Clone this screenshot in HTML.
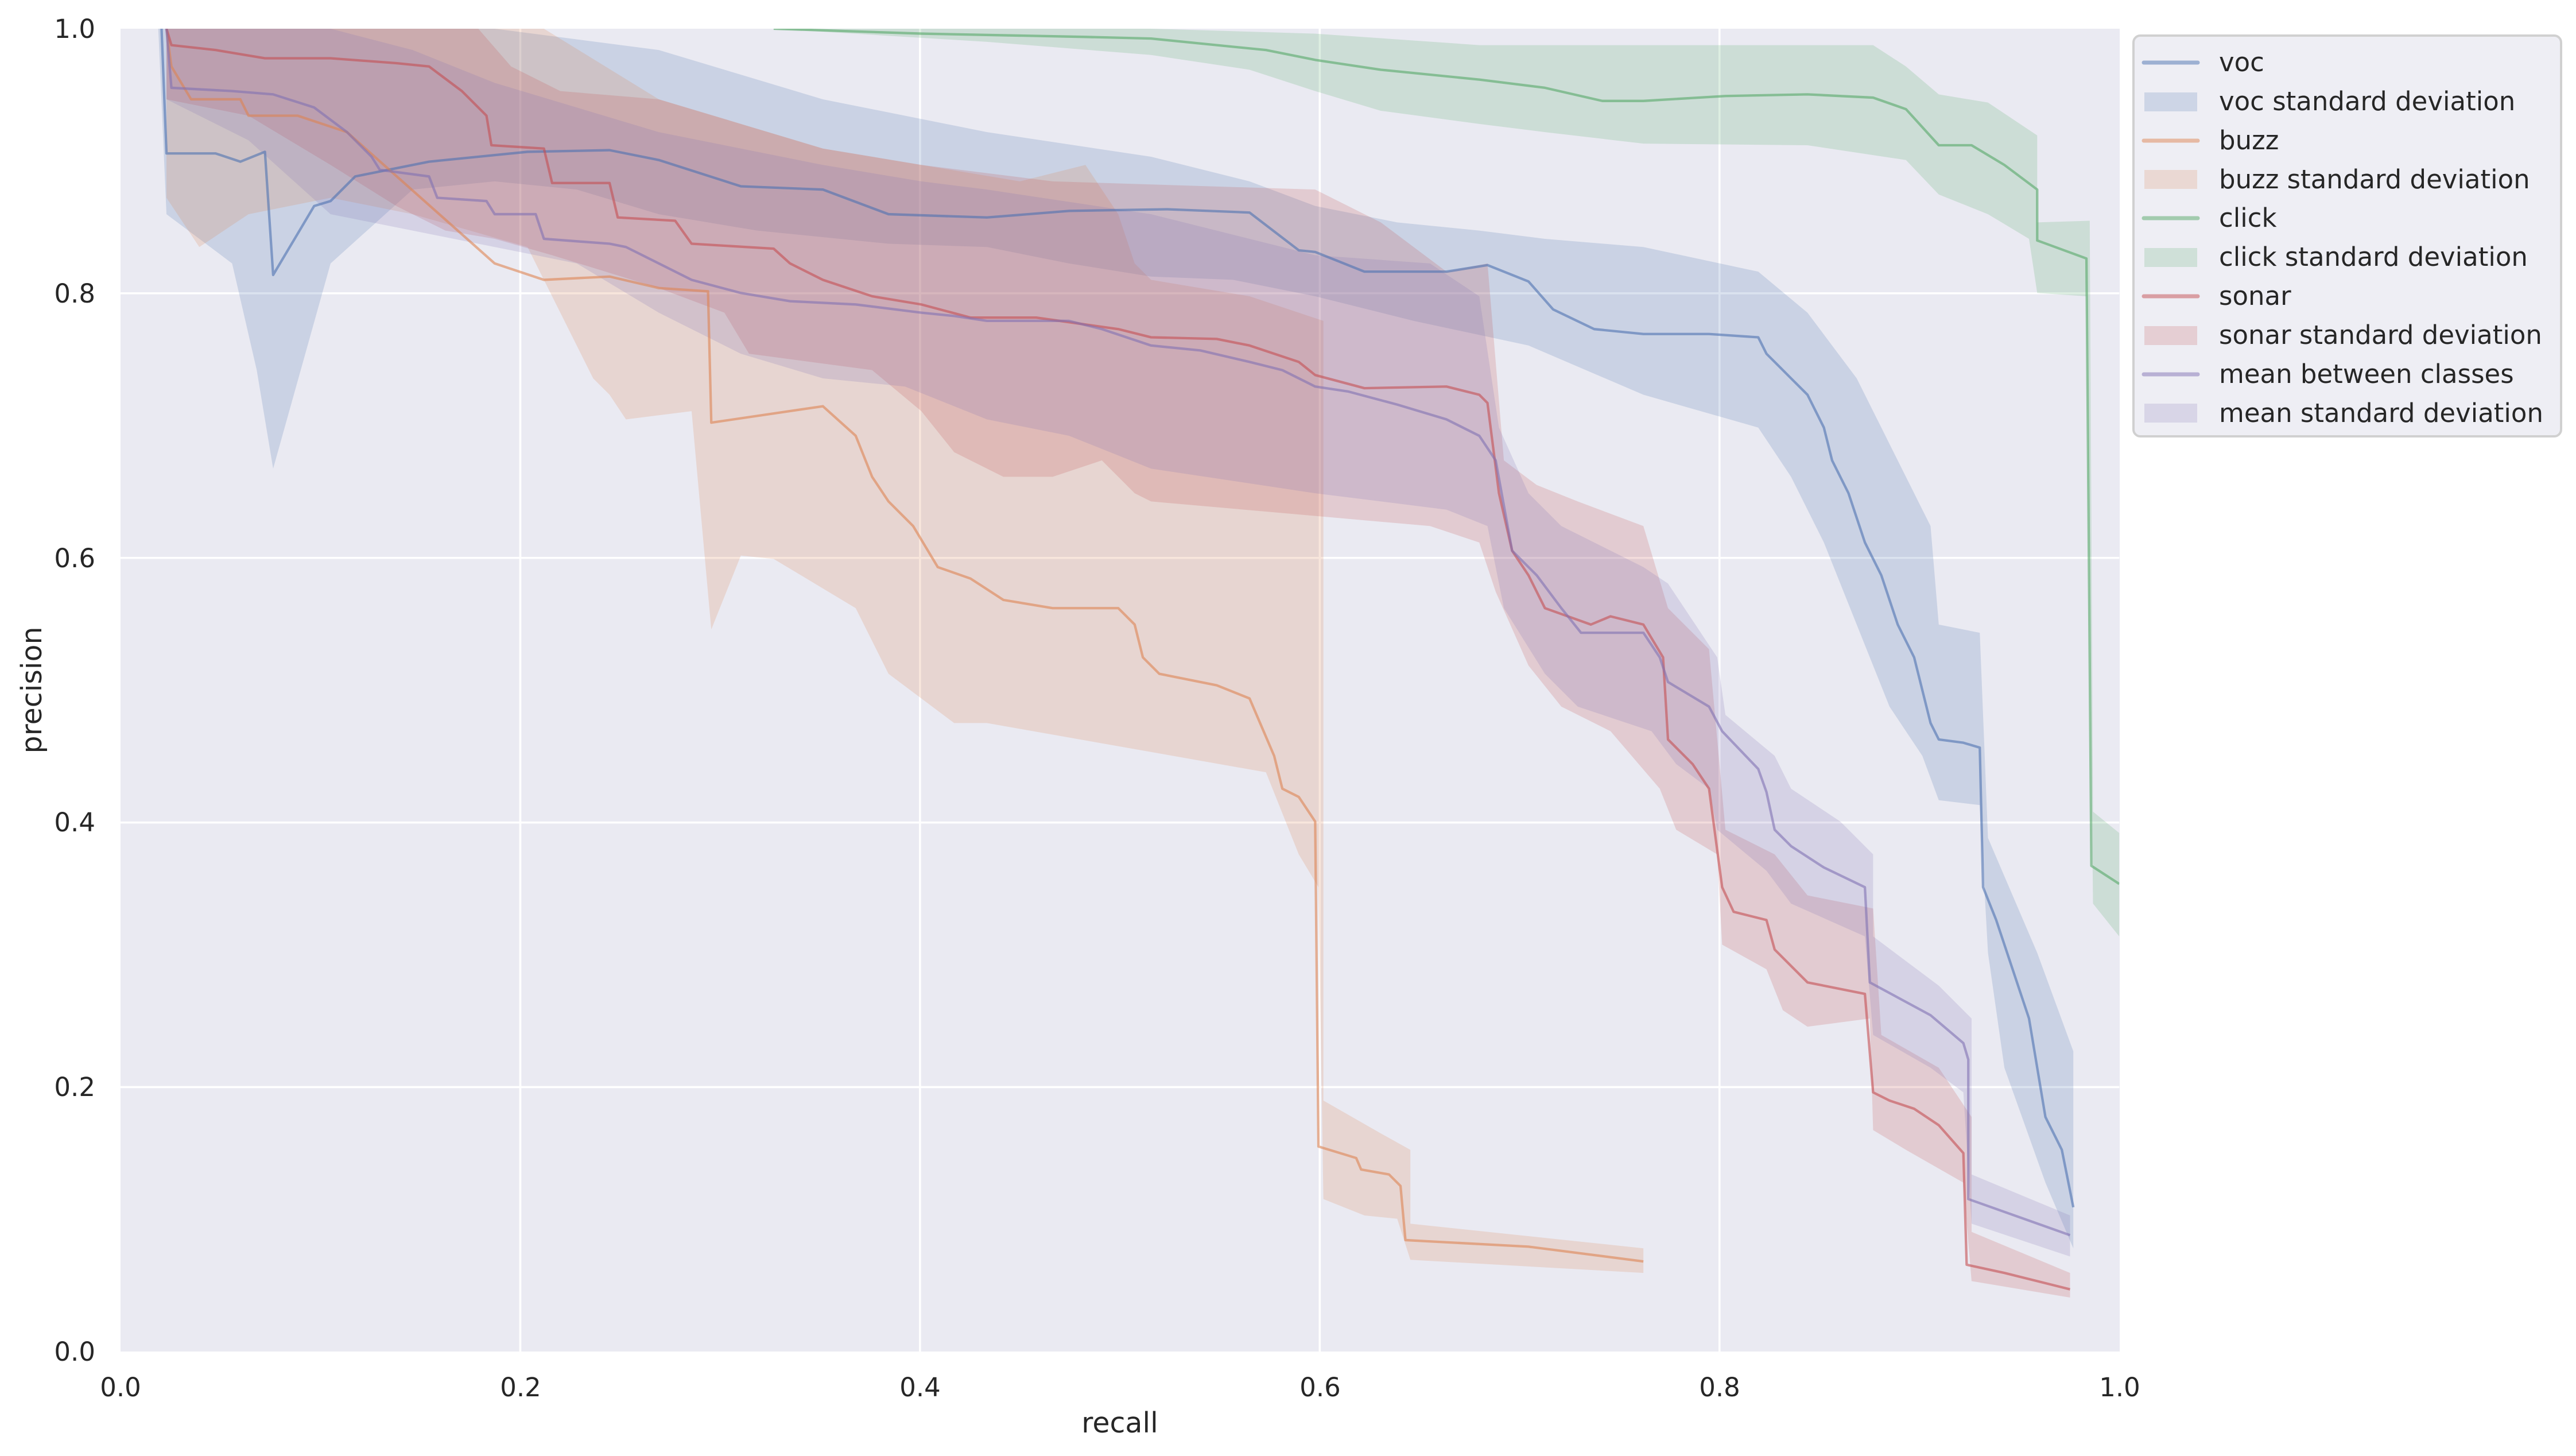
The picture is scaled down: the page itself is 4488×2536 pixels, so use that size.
<!DOCTYPE html>
<html><head><meta charset="utf-8"><style>
html,body{margin:0;padding:0;background:#fff}
svg{display:block}
text{font-family:"DejaVu Sans","Liberation Sans",sans-serif;fill:#262626}
</style></head><body>
<svg width="4488" height="2536" viewBox="0 0 4488 2536" xmlns="http://www.w3.org/2000/svg">
<defs><clipPath id="c"><rect x="72" y="17" width="1218" height="806"/></clipPath></defs>
<rect x="210" y="50" width="3483" height="2304" fill="#eaeaf2"/>
<g transform="translate(4.15,1.4) scale(2.859)">
<g stroke="#fff" stroke-width="3.6" vector-effect="non-scaling-stroke">
<line x1="72" y1="178.2" x2="1290" y2="178.2" vector-effect="non-scaling-stroke"/>
<line x1="72" y1="339.4" x2="1290" y2="339.4" vector-effect="non-scaling-stroke"/>
<line x1="72" y1="500.6" x2="1290" y2="500.6" vector-effect="non-scaling-stroke"/>
<line x1="72" y1="661.8" x2="1290" y2="661.8" vector-effect="non-scaling-stroke"/>
<line x1="315.6" y1="17" x2="315.6" y2="823" vector-effect="non-scaling-stroke"/>
<line x1="559.2" y1="17" x2="559.2" y2="823" vector-effect="non-scaling-stroke"/>
<line x1="802.8" y1="17" x2="802.8" y2="823" vector-effect="non-scaling-stroke"/>
<line x1="1046.4" y1="17" x2="1046.4" y2="823" vector-effect="non-scaling-stroke"/>
</g>
<g clip-path="url(#c)" stroke-linejoin="round" fill="none">
<polygon fill="#4c72b0" fill-opacity="0.2" stroke="none" points="97,17 300,17 400,30 500,60 600,80 700,95 760,110 800,125 850,135 900,140 940,145 1000,150 1070,165 1100,190 1130,230 1150,270 1175,320 1180,380 1205,385 1210,510 1240,580 1262,640 1262,760 1245,720 1220,650 1210,580 1205,490 1180,487 1170,460 1150,430 1130,380 1110,330 1090,290 1070,260 1000,240 930,210 860,195 800,180 750,170 700,168 650,160 600,150 540,148 460,140 400,130 350,115 300,110 250,115 200,160 165,285 155,225 140,160 100,130 95,17"/>
<polygon fill="#dd8452" fill-opacity="0.2" stroke="none" points="100,17 330,17 400,60 500,90 620,110 660,100 680,130 690,160 700,170 760,180 790,190 805,195 805,670 840,690 858,700 858,745 1000,760 1000,775 858,767 850,742 830,740 805,730 802,540 790,520 770,470 600,440 580,440 540,410 520,370 470,340 450,338 432,383 420,250 380,255 370,240 360,230 320,150 250,130 200,120 150,130 120,150 100,120"/>
<polygon fill="#55a868" fill-opacity="0.2" stroke="none" points="470,17 700,17 800,20 900,27 1000,27 1100,27 1140,27 1160,40 1180,57 1210,62 1240,82 1240,135 1272,134 1274,494 1290,507 1290,570 1274,550 1270,180 1240,178 1235,145 1210,130 1180,118 1160,97 1100,88 1000,87 940,80 900,75 840,67 800,55 760,42 700,33 600,25 470,17"/>
<polygon fill="#c44e52" fill-opacity="0.2" stroke="none" points="100,17 290,17 310,40 340,55 400,60 450,75 500,90 560,100 640,110 800,115 840,135 880,165 905,160 915,280 935,295 960,305 1000,320 1015,370 1040,395 1050,505 1080,520 1100,545 1140,553 1145,630 1180,650 1200,680 1200,750 1260,775 1260,790 1200,780 1195,720 1160,700 1140,688 1138,620 1100,625 1085,615 1075,590 1048,575 1045,520 1020,505 1010,480 980,445 950,430 930,405 910,360 900,330 870,320 700,305 690,300 670,280 640,290 610,290 580,275 560,250 530,225 455,215 440,190 400,175 335,155 300,145 270,140 240,125 200,100 150,70 100,60"/>
<polygon fill="#8172b3" fill-opacity="0.2" stroke="none" points="100,17 200,17 250,30 300,50 350,65 400,80 450,90 500,100 560,110 600,115 700,130 800,155 870,160 900,180 912,260 930,300 950,320 1000,345 1015,355 1045,400 1050,435 1080,460 1090,480 1120,500 1140,520 1140,570 1180,600 1200,620 1200,715 1260,740 1260,765 1200,745 1195,665 1175,650 1140,630 1135,570 1090,550 1075,530 1045,505 1040,480 1020,465 1005,445 960,430 940,410 915,370 905,320 880,310 800,300 700,285 650,265 600,255 550,235 500,230 450,215 400,190 350,160 300,150 250,140 200,130 150,85 100,60"/>
<g stroke-width="4.3" stroke-opacity="0.6">
<polyline vector-effect="non-scaling-stroke" stroke="#4c72b0" points="97,17 100,93 130,93 145,98 160,92 165,167 190,125 200,122 215,107 235,103 260,98 290,95 320,92 370,91 400,97 450,113 500,115 540,130 600,132 650,128 710,127 760,129 790,152 800,153 830,165 880,165 905,161 930,171 945,188 970,200 1000,203 1040,203 1070,205 1075,215 1090,230 1100,240 1110,260 1115,280 1125,300 1135,330 1145,350 1155,380 1165,400 1175,440 1180,450 1195,452 1205,455 1207,540 1215,560 1225,590 1235,620 1245,680 1255,700 1262,735"/>
<polyline vector-effect="non-scaling-stroke" stroke="#dd8452" points="100,17 103,40 115,60 145,60 150,70 180,70 210,80 300,160 330,170 370,168 400,175 430,177 432,257 500,247 520,265 530,290 540,305 555,320 570,345 590,352 610,365 640,370 680,370 690,380 695,400 705,410 740,417 760,425 775,460 780,480 790,485 800,500 802,698 825,705 828,712 845,715 852,722 855,755 930,759 1000,768"/>
<polyline vector-effect="non-scaling-stroke" stroke="#55a868" points="470,17 560,20 660,22 700,23 770,30 800,36 840,42 900,48 940,53 975,61 1000,61 1050,58 1100,57 1140,59 1160,66 1180,88 1200,88 1220,100 1240,115 1240,146 1270,157 1273,527 1290,538"/>
<polyline vector-effect="non-scaling-stroke" stroke="#c44e52" points="100,17 103,27 130,30 160,35 200,35 240,38 260,40 280,55 295,70 298,88 330,90 335,111 370,111 375,132 410,134 420,148 470,151 480,160 500,170 530,180 560,185 590,193 630,193 680,200 700,205 740,206 760,210 790,220 800,228 830,236 880,235 900,240 905,245 912,300 920,335 930,350 940,370 968,380 980,375 1000,380 1012,400 1015,450 1030,465 1040,480 1048,540 1055,555 1075,560 1080,578 1100,598 1135,605 1140,665 1150,670 1165,675 1180,685 1195,702 1197,770 1220,775 1260,785"/>
<polyline vector-effect="non-scaling-stroke" stroke="#8172b3" points="100,17 103,53 140,55 165,57 190,65 210,80 225,95 230,103 260,107 265,120 295,122 300,130 325,130 330,145 370,148 380,150 400,160 420,170 450,178 480,183 520,185 560,190 580,192 600,195 650,195 670,200 700,210 730,213 760,220 780,225 800,235 820,238 850,246 880,255 900,265 910,280 920,335 935,350 950,370 962,385 1000,385 1010,400 1015,415 1040,430 1048,445 1070,468 1075,482 1080,505 1090,515 1110,528 1135,540 1138,598 1175,618 1195,635 1198,645 1198,730 1260,752"/>
</g>
</g>
</g>
<g font-size="45" text-anchor="middle">
<text x="210" y="2432">0.0</text>
<text x="907" y="2432">0.2</text>
<text x="1603" y="2432">0.4</text>
<text x="2300" y="2432">0.6</text>
<text x="2996" y="2432">0.8</text>
<text x="3693" y="2432">1.0</text>
</g>
<g font-size="45" text-anchor="end">
<text x="166" y="2370">0.0</text>
<text x="166" y="1909">0.2</text>
<text x="166" y="1448">0.4</text>
<text x="166" y="988">0.6</text>
<text x="166" y="527">0.8</text>
<text x="166" y="66">1.0</text>
</g>
<text x="1951" y="2495" font-size="49" text-anchor="middle">recall</text>
<text transform="translate(72,1202) rotate(-90)" font-size="49" text-anchor="middle">precision</text>
<rect x="3717" y="62" width="745" height="698" rx="12" fill="#eeeef4" stroke="#d0d0d0" stroke-width="4"/>
<g stroke-width="7" stroke-linecap="round" stroke-opacity="0.5">
<line x1="3735" y1="109" x2="3829" y2="109" stroke="#4c72b0"/>
<line x1="3735" y1="245" x2="3829" y2="245" stroke="#dd8452"/>
<line x1="3735" y1="380" x2="3829" y2="380" stroke="#55a868"/>
<line x1="3735" y1="516" x2="3829" y2="516" stroke="#c44e52"/>
<line x1="3735" y1="652" x2="3829" y2="652" stroke="#8172b3"/>
</g>
<g fill-opacity="0.2">
<rect x="3736" y="161" width="92" height="33" fill="#4c72b0"/>
<rect x="3736" y="296" width="92" height="33" fill="#dd8452"/>
<rect x="3736" y="432" width="92" height="33" fill="#55a868"/>
<rect x="3736" y="568" width="92" height="33" fill="#c44e52"/>
<rect x="3736" y="703" width="92" height="33" fill="#8172b3"/>
</g>
<g font-size="45">
<text x="3866" y="124">voc</text>
<text x="3866" y="192">voc standard deviation</text>
<text x="3866" y="260">buzz</text>
<text x="3866" y="328">buzz standard deviation</text>
<text x="3866" y="395">click</text>
<text x="3866" y="463">click standard deviation</text>
<text x="3866" y="531">sonar</text>
<text x="3866" y="599">sonar standard deviation</text>
<text x="3866" y="667">mean between classes</text>
<text x="3866" y="735">mean standard deviation</text>
</g>
</svg>
</body></html>
